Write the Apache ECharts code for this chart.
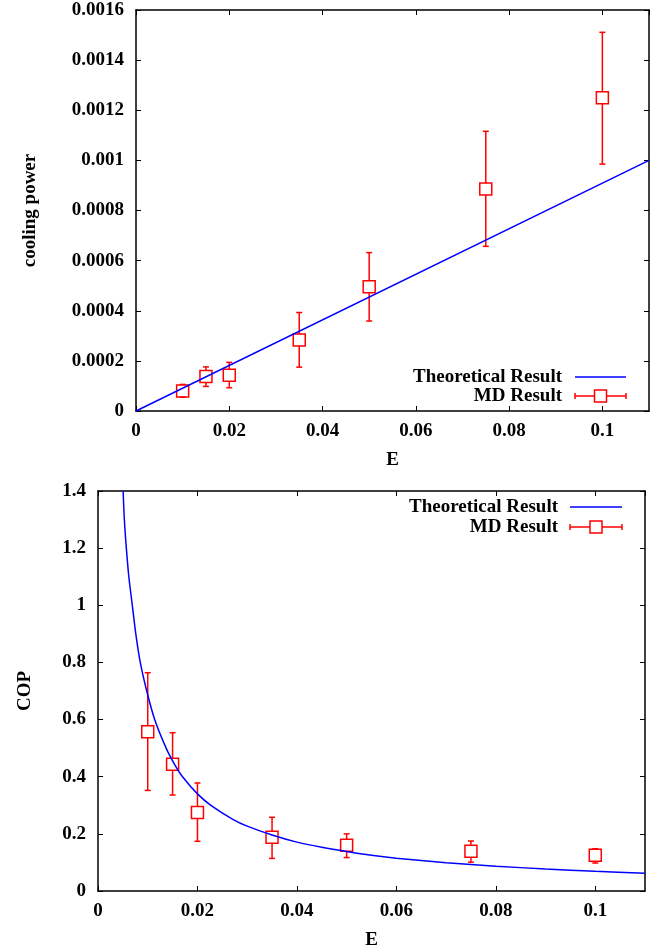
<!DOCTYPE html>
<html>
<head>
<meta charset="utf-8">
<script src="https://cdn.jsdelivr.net/npm/echarts@6/dist/echarts.min.js"></script>
<style>
  html, body { margin: 0; padding: 0; background: #fff; }
  #chart { width: 668px; height: 952px; }
</style>
</head>
<body>
<div id="chart"></div>
<script>
// top panel: cooling power vs E
const powerTheory = [[0, 0], [0.11, 0.001]]
// [E, value, low, high]
const powerMD = [
  [0.01, 0.00008, 0.000055, 0.000106],
  [0.015, 0.000138, 0.000098, 0.000176],
  [0.02, 0.000143, 0.000093, 0.000194],
  [0.035, 0.000283, 0.000175, 0.000393],
  [0.05, 0.000496, 0.000359, 0.000632],
  [0.075, 0.000886, 0.000657, 0.001116],
  [0.1, 0.00125, 0.000985, 0.001511],
]

// bottom panel: COP vs E
const copTheory = [
  [0.00505, 1.4], [0.0053, 1.3], [0.0057, 1.2], [0.0062, 1.1], [0.0069, 1.0],
  [0.0076, 0.9], [0.0085, 0.8], [0.0098, 0.7], [0.0114, 0.6], [0.0137, 0.5],
  [0.0155, 0.44], [0.017, 0.4], [0.02, 0.34], [0.0227, 0.3], [0.0272, 0.25],
  [0.03, 0.227], [0.035, 0.196], [0.04, 0.171], [0.045, 0.153], [0.05, 0.138],
  [0.055, 0.125], [0.06, 0.115], [0.07, 0.099], [0.08, 0.087], [0.09, 0.077],
  [0.1, 0.069], [0.11, 0.062],
]
const copMD = [
  [0.01, 0.557, 0.352, 0.764],
  [0.015, 0.444, 0.336, 0.554],
  [0.02, 0.275, 0.174, 0.378],
  [0.035, 0.188, 0.114, 0.258],
  [0.05, 0.160, 0.117, 0.200],
  [0.075, 0.139, 0.101, 0.175],
  [0.1, 0.125, 0.098, 0.148],
]

const font = '"Liberation Serif", "DejaVu Serif", serif'
const red = '#ff0000'
const blue = '#0000ff'

function errRender(params, api) {
  const x = api.value(0)
  const c = api.coord([x, api.value(1)])
  const lo = api.coord([x, api.value(2)])
  const hi = api.coord([x, api.value(3)])
  const s = 6, cap = 3
  const st = { stroke: red, lineWidth: 1.5, fill: null }
  const kids = [
    { type: 'line', shape: { x1: hi[0] - cap, y1: hi[1], x2: hi[0] + cap, y2: hi[1] }, style: st },
    { type: 'line', shape: { x1: lo[0] - cap, y1: lo[1], x2: lo[0] + cap, y2: lo[1] }, style: st },
    { type: 'rect', shape: { x: c[0] - s, y: c[1] - s, width: 2 * s, height: 2 * s }, style: st },
  ]
  if (hi[1] < c[1] - s) kids.push({ type: 'line', shape: { x1: c[0], y1: hi[1], x2: c[0], y2: c[1] - s }, style: st })
  if (lo[1] > c[1] + s) kids.push({ type: 'line', shape: { x1: c[0], y1: c[1] + s, x2: c[0], y2: lo[1] }, style: st })
  return { type: 'group', children: kids }
}

const lbl = { fontFamily: font, fontWeight: 'bold', fontSize: 19, color: '#000' }
const axLine = { show: true, onZero: false, lineStyle: { color: '#000', width: 1.5 } }
const tick = { show: true, inside: true, length: 5, lineStyle: { color: '#000', width: 1 } }
const nameStyle = { fontFamily: font, fontWeight: 'bold', fontSize: 19, color: '#000' }

function xAxes(grid, gap) {
  const base = { type: 'value', gridIndex: grid, min: 0, max: 0.11, interval: 0.02, splitLine: { show: false }, axisLine: axLine, axisTick: tick }
  return [
    Object.assign({}, base, {
      position: 'bottom', name: 'E', nameLocation: 'middle', nameGap: gap, nameTextStyle: nameStyle,
      axisLabel: Object.assign({}, lbl, { margin: 11, showMaxLabel: false, formatter: v => String(+v.toFixed(2)) }),
    }),
    Object.assign({}, base, { position: 'top', axisLabel: { show: false } }),
  ]
}

function yAxes(grid, max, step, name, gap, digits) {
  const base = { type: 'value', gridIndex: grid, min: 0, max: max, interval: step, splitLine: { show: false }, axisLine: axLine, axisTick: tick }
  return [
    Object.assign({}, base, {
      position: 'left', name: name, nameLocation: 'middle', nameGap: gap, nameTextStyle: nameStyle,
      axisLabel: Object.assign({}, lbl, { margin: 12, formatter: v => String(+v.toFixed(digits)) }),
    }),
    Object.assign({}, base, { position: 'right', axisLabel: { show: false } }),
  ]
}

function legend(textRight, y1, y2, lx1, lx2) {
  const t = { fontFamily: font, fontWeight: 'bold', fontSize: 19, fill: '#000', align: 'right', verticalAlign: 'middle' }
  const st = { stroke: red, lineWidth: 1.5, fill: null }
  const mid = (lx1 + lx2) / 2
  return [
    { type: 'text', x: textRight, y: y1, style: Object.assign({ text: 'Theoretical Result' }, t) },
    { type: 'text', x: textRight, y: y2, style: Object.assign({ text: 'MD Result' }, t) },
    { type: 'line', shape: { x1: lx1, y1: y1, x2: lx2, y2: y1 }, style: { stroke: blue, lineWidth: 1.5 } },
    { type: 'line', shape: { x1: lx1, y1: y2, x2: mid - 6, y2: y2 }, style: st },
    { type: 'line', shape: { x1: mid + 6, y1: y2, x2: lx2, y2: y2 }, style: st },
    { type: 'line', shape: { x1: lx1, y1: y2 - 3, x2: lx1, y2: y2 + 3 }, style: st },
    { type: 'line', shape: { x1: lx2, y1: y2 - 3, x2: lx2, y2: y2 + 3 }, style: st },
    { type: 'rect', shape: { x: mid - 6, y: y2 - 6, width: 12, height: 12 }, style: st },
  ]
}

const chart = echarts.init(document.getElementById('chart'))
chart.setOption({
  backgroundColor: '#fff',
  animation: false,
  grid: [
    { left: 136, top: 10, width: 513, height: 401 },
    { left: 98, top: 491, width: 547, height: 400 },
  ],
  xAxis: xAxes(0, 40).concat(xAxes(1, 40)),
  yAxis: yAxes(0, 0.0016, 0.0002, 'cooling power', 96, 4).concat(yAxes(1, 1.4, 0.2, 'COP', 63, 1)),
  series: [
    {
      type: 'line', xAxisIndex: 0, yAxisIndex: 0, data: powerTheory, showSymbol: false,
      lineStyle: { color: blue, width: 1.5 },
    },
    {
      type: 'custom', xAxisIndex: 0, yAxisIndex: 0, data: powerMD, renderItem: errRender,
      encode: { x: 0, y: [1, 2, 3] }, z: 3,
    },
    {
      type: 'line', xAxisIndex: 2, yAxisIndex: 2, data: copTheory, showSymbol: false,
      smooth: 0.25, lineStyle: { color: blue, width: 1.5 },
    },
    {
      type: 'custom', xAxisIndex: 2, yAxisIndex: 2, data: copMD, renderItem: errRender,
      encode: { x: 0, y: [1, 2, 3] }, z: 3,
    },
  ],
  graphic: legend(562, 377, 396, 575, 626).concat(legend(558, 507, 527, 570, 622)),
})
</script>
</body>
</html>
